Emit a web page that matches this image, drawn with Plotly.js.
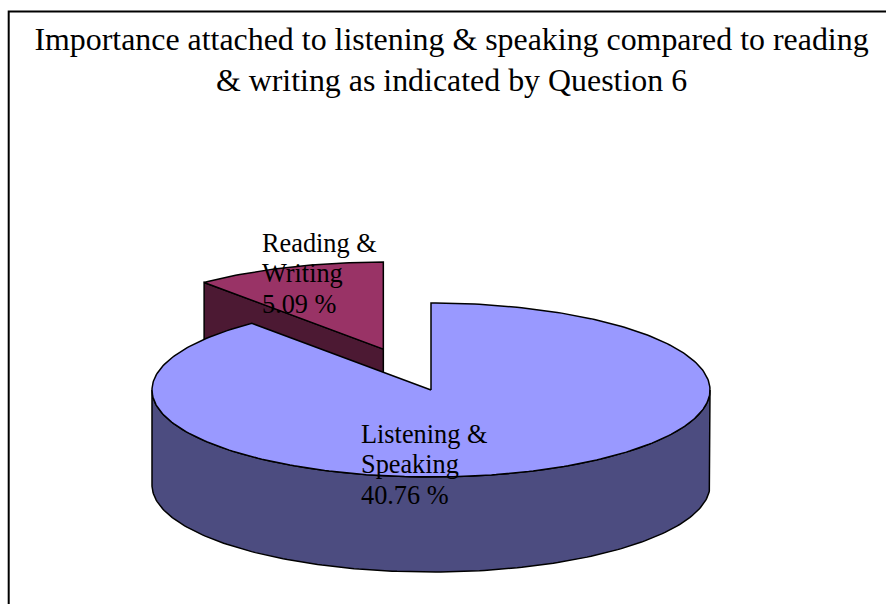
<!DOCTYPE html>
<html><head><meta charset="utf-8">
<script src="https://cdn.plot.ly/plotly-3.0.1.min.js"></script>
<style>html,body{margin:0;padding:0;background:#fff}</style>
</head><body>
<div id="chart" style="width:886px;height:604px"></div>
<script>
// ---- data ----
const titleLines = ['Importance attached to listening & speaking compared to reading', '& writing as indicated by Question 6'];
const categories = ['Listening & Speaking', 'Reading & Writing'];
const values = [40.76, 5.09];
const labelLines = [['Listening &', 'Speaking'], ['Reading &', 'Writing']];

// ---- style / geometry ----
const topColors = ['#9999FF', '#993366'];
const sideColors = ['#4C4C80', '#4C1933'];
const pulls = [0, 0.5];
const CX = 431, CY = 390, RX = 279, RY = 87, DEPTH = 95, START = 90;
const labelPos = [[359, 443], [260, 252]];
const LINE_STEP = 30.5, LABEL_SIZE = 26.3;
const FONT = 'Times New Roman, Liberation Serif, DejaVu Serif, serif';

const rad = d => d * Math.PI / 180;
const total = values.reduce((a, b) => a + b, 0);

let cursor = START;
const slices = values.map((v, i) => {
  const sweep = 360 * v / total;
  const a0 = cursor, a1 = cursor - sweep;
  cursor = a1;
  const mid = (a0 + a1) / 2;
  const c = {x: CX + Math.cos(rad(mid)) * RX * pulls[i], y: CY - Math.sin(rad(mid)) * RY * pulls[i]};
  return {i, a0, a1, c};
});

function pt(c, th, dz) { return [c.x + RX * Math.cos(rad(th)), c.y - RY * Math.sin(rad(th)) + dz]; }
function arc(c, from, to, dz) {
  const n = Math.max(2, Math.ceil(Math.abs(to - from)));
  const out = [];
  for (let k = 0; k <= n; k++) out.push(pt(c, from + (to - from) * k / n, dz));
  return out;
}
function poly(points, fill, name) {
  const xs = points.map(p => p[0]), ys = points.map(p => p[1]);
  xs.push(xs[0]); ys.push(ys[0]);
  return {type: 'scatter', mode: 'lines', x: xs, y: ys, fill: 'toself', fillcolor: fill,
    line: {color: '#000', width: 1.5}, hoverinfo: 'skip', name: name, showlegend: false};
}

const traces = [];
const order = slices.slice().sort((a, b) => a.c.y - b.c.y);
order.forEach(s => {
  const name = categories[s.i];
  const c = s.c;
  const faces = [];
  if (Math.cos(rad(s.a0)) < -1e-6) faces.push(s.a0);
  if (Math.cos(rad(s.a1)) > 1e-6) faces.push(s.a1);
  faces.forEach(a => {
    const p = pt(c, a, 0), q = pt(c, a, DEPTH);
    traces.push(poly([[c.x, c.y], p, q, [c.x, c.y + DEPTH]], sideColors[s.i], name));
  });
  for (let k = -2; k <= 1; k++) {
    const lo = Math.max(s.a1, -180 + 360 * k), hi = Math.min(s.a0, 360 * k);
    if (hi - lo > 0.01) {
      const topArc = arc(c, lo, hi, 0);
      const botArc = arc(c, hi, lo, DEPTH);
      traces.push(poly(topArc.concat(botArc), sideColors[s.i], name));
    }
  }
  traces.push(poly([[c.x, c.y]].concat(arc(c, s.a0, s.a1, 0)), topColors[s.i], name));
});

const annotations = [];
slices.forEach(s => {
  const lines = labelLines[s.i].concat([values[s.i].toFixed(2) + ' %']);
  lines.forEach((t, j) => {
    annotations.push({x: labelPos[s.i][0], y: labelPos[s.i][1] + j * LINE_STEP - 8.8,
      xref: 'x', yref: 'y', text: t, showarrow: false, xanchor: 'left', yanchor: 'middle',
      font: {family: FONT, size: LABEL_SIZE, color: '#000'}});
  });
});

const layout = {
  width: 886, height: 604,
  margin: {l: 0, r: 0, t: 0, b: 0},
  paper_bgcolor: '#fff', plot_bgcolor: '#fff',
  showlegend: false,
  font: {family: FONT},
  title: {text: titleLines.join('<br>'), font: {family: FONT, size: 31.9, color: '#000'},
    x: 451.5 / 886, xanchor: 'center', xref: 'paper', y: 1 - 50 / 604, yanchor: 'top', yref: 'container'},
  xaxis: {range: [0, 886], visible: false, fixedrange: true},
  yaxis: {range: [604, 0], visible: false, fixedrange: true},
  shapes: [{type: 'rect', xref: 'x', yref: 'y', x0: 8.7, y0: 11.5, x1: 950, y1: 700,
    line: {color: '#000', width: 2}, layer: 'above'}],
  annotations: annotations
};

Plotly.newPlot('chart', traces, layout, {staticPlot: true, displayModeBar: false});
</script>
</body></html>
